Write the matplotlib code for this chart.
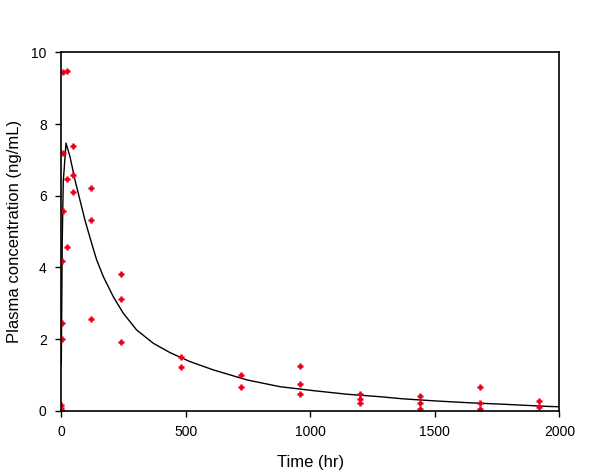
import matplotlib.pyplot as plt

plt.rcParams['font.family'] = ['Liberation Sans', 'DejaVu Sans']

# Observed plasma concentrations (sampling time in hr, conc in ng/mL)
obs_time = [0, 0, 0,
            4, 4, 4,
            8, 8, 8,
            24, 24, 24,
            48, 48, 48,
            120, 120, 120,
            240, 240, 240,
            480, 480,
            720, 720,
            960, 960, 960,
            1200, 1200, 1200,
            1440, 1440, 1440,
            1680, 1680, 1680,
            1920, 1920]
obs_conc = [0.15, 0.08, 0.03,
            4.18, 2.46, 2.00,
            9.45, 7.19, 5.58,
            9.47, 6.47, 4.56,
            7.40, 6.58, 6.11,
            6.21, 5.33, 2.57,
            3.81, 3.12, 1.93,
            1.49, 1.22,
            1.01, 0.67,
            1.26, 0.75, 0.46,
            0.46, 0.32, 0.21,
            0.41, 0.22, 0.06,
            0.65, 0.21, 0.04,
            0.28, 0.11]

# Fitted model curve
fit_time = [0, 4, 8, 19, 35, 55, 75, 95, 122, 142, 169, 209, 249, 303, 370,
            437, 517, 610, 745, 878, 1012, 1146, 1280, 1374, 1508, 1641,
            1775, 1950, 2000]
fit_conc = [1.3, 4.8, 6.4, 7.47, 7.09, 6.44, 5.88, 5.32, 4.67, 4.21, 3.74,
            3.18, 2.72, 2.25, 1.88, 1.62, 1.37, 1.14, 0.86, 0.67, 0.56, 0.46,
            0.39, 0.33, 0.27, 0.22, 0.18, 0.12, 0.11]

fig = plt.figure(figsize=(6.05, 4.72), dpi=100)
ax = fig.add_axes([0.1013, 0.1299, 0.8232, 0.7589])

ax.plot(fit_time, fit_conc, color='black', linewidth=1.0)
ax.plot(obs_time, obs_conc, linestyle='none', marker='+', color='#e8001c',
        markersize=5, markeredgewidth=1.8)

ax.set_xlim(0, 2000)
ax.set_ylim(0, 10)
ax.set_xticks([0, 500, 1000, 1500, 2000])
ax.set_yticks([0, 2, 4, 6, 8, 10])
ax.tick_params(direction='out', length=4.5, width=1, labelsize=10, pad=6,
               top=False, right=False)
for s in ax.spines.values():
    s.set_linewidth(1.2)

ax.set_xlabel('Time (hr)', fontsize=12, labelpad=11)
ax.set_ylabel('Plasma concentration (ng/mL)', fontsize=12, labelpad=6.5)

fig.savefig('out.png', dpi=100)
